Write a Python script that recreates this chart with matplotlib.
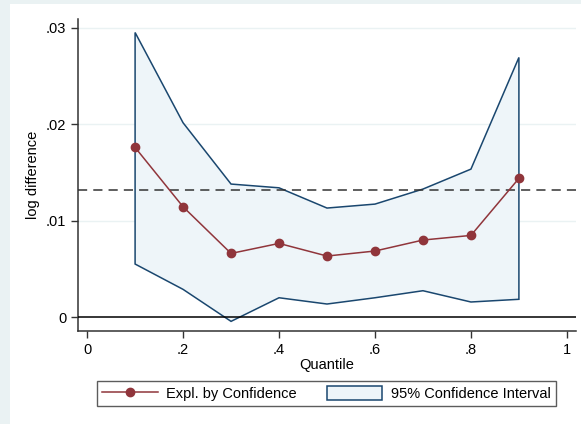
import numpy as np
import matplotlib.pyplot as plt
from matplotlib.patches import Rectangle, Patch
from matplotlib.lines import Line2D

quantile = [0.1, 0.2, 0.3, 0.4, 0.5, 0.6, 0.7, 0.8, 0.9]
expl_conf = [0.0176, 0.01144, 0.0066, 0.00764, 0.00633, 0.00685, 0.00799, 0.00847, 0.01439]
ci_upper = [0.02953, 0.02016, 0.0138, 0.01341, 0.01131, 0.01172, 0.01328, 0.01535, 0.02694]
ci_lower = [0.0055, 0.00287, -0.00045, 0.0020, 0.00135, 0.0020, 0.00273, 0.00156, 0.00184]
ref_line = 0.01317

x_ticks = [0, 0.2, 0.4, 0.6, 0.8, 1.0]
x_labels = ["0", ".2", ".4", ".6", ".8", "1"]
y_ticks = [0, 0.01, 0.02, 0.03]
y_labels = ["0", ".01", ".02", ".03"]

navy = "#1A476F"
maroon = "#90353B"
fill_col = "#EEF5F9"
frame_col = "#EAF2F3"

plt.rcParams["font.family"] = ["Liberation Sans", "DejaVu Sans"]

fig = plt.figure(figsize=(5.81, 4.24), dpi=100)
fig.patch.set_facecolor(frame_col)
fig.patches.append(Rectangle((10 / 581, 0), 1, 1 - 4 / 424, transform=fig.transFigure,
                             facecolor="white", edgecolor="none", zorder=-10))

ax = fig.add_axes([78 / 581, 1 - 331 / 424, (576 - 78) / 581, (331 - 19) / 424])
ax.set_facecolor("white")

# confidence band as closed polygon
poly_x = np.concatenate([quantile, quantile[::-1]])
poly_y = np.concatenate([ci_upper, ci_lower[::-1]])
ax.fill(poly_x, poly_y, facecolor=fill_col, edgecolor=navy, linewidth=1.1, zorder=2)

ax.axhline(ref_line, color="#333333", linestyle=(0, (6, 4)), linewidth=1.1, zorder=3)
ax.axhline(0, color="black", linewidth=1.1, zorder=3)

ax.plot(quantile, expl_conf, color=maroon, linewidth=1.1, marker="o",
        markersize=6, zorder=4)

for yt in y_ticks[1:]:
    ax.axhline(yt, color=frame_col, linewidth=1.0, zorder=1)

ax.set_xlim(-0.019, 1.019)
ax.set_ylim(-0.00145, 0.03093)
ax.set_xticks(x_ticks)
ax.set_xticklabels(x_labels)
ax.set_yticks(y_ticks)
ax.set_yticklabels(y_labels)
ax.tick_params(axis="both", labelsize=10.5, length=5, width=1, color="#333333")

for side in ["top", "right"]:
    ax.spines[side].set_visible(False)
for side in ["left", "bottom"]:
    ax.spines[side].set_color("#333333")
    ax.spines[side].set_linewidth(1.1)

ax.set_xlabel("Quantile", fontsize=10.5, labelpad=1)
ax.set_ylabel("log difference", fontsize=10.5, labelpad=4)

handles = [
    Line2D([], [], color=maroon, linewidth=1.1, marker="o", markersize=6),
    Patch(facecolor=fill_col, edgecolor=navy, linewidth=1.1),
]
leg = fig.legend(handles, ["Expl. by Confidence", "95% Confidence Interval"],
                 loc="lower left", bbox_to_anchor=(97 / 581, 1 - 406 / 424, (556 - 97) / 581, 27 / 424),
                 mode="expand", ncol=2, fontsize=10.5, frameon=True, fancybox=False,
                 handlelength=3.8, handleheight=1.1, handletextpad=0.6,
                 borderaxespad=0, borderpad=0.35, columnspacing=2)
leg.get_frame().set_edgecolor("#333333")
leg.get_frame().set_linewidth(1.0)

fig.savefig("out.png", dpi=100, facecolor=fig.get_facecolor())
